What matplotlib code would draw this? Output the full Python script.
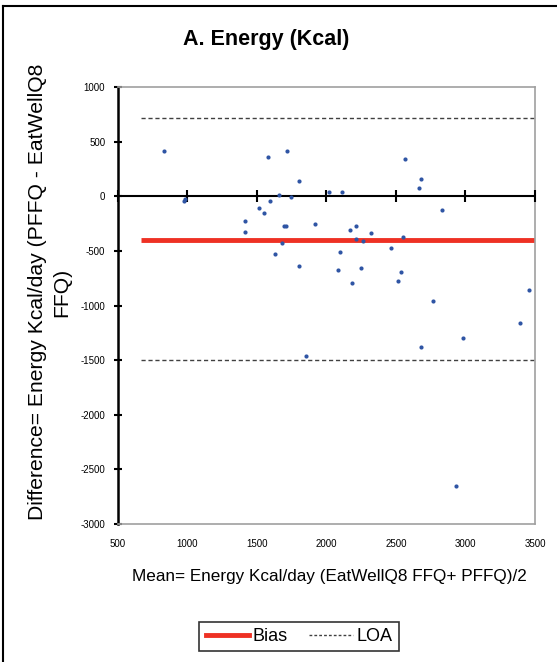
import numpy as np
import matplotlib
matplotlib.use('Agg')
matplotlib.rcParams['font.family'] = ['Liberation Sans', 'DejaVu Sans']
import matplotlib.pyplot as plt
from matplotlib.lines import Line2D

# Bland-Altman data (kcal/day)
mean_kcal = [835, 978, 986, 1580, 1717, 1806, 1657, 1744, 2017, 1593,
             1516, 1554, 1415, 1415, 1693, 1708, 1920, 1681, 1628, 1806,
             2110, 2565, 2678, 2666, 2829, 2211, 2172, 2323, 2211, 2261,
             2551, 2462, 2098, 2084, 2249, 2537, 2185, 2513, 2767, 3459,
             3394, 2980, 2678, 2930, 1856]
diff_kcal = [417, -48, -29, 356, 417, 136, 11, -7, 35, -48,
             -105, -149, -228, -329, -268, -268, -250, -429, -530, -635,
             35, 338, 154, 75, -127, -271, -310, -332, -390, -411,
             -372, -472, -512, -674, -653, -693, -796, -778, -959, -858,
             -1161, -1301, -1384, -2656, -1463]

bias = -405
loa_upper = 720
loa_lower = -1497
line_start = 670
x_end = 3500

xticks = [500, 1000, 1500, 2000, 2500, 3000, 3500]
yticks = [1000, 500, 0, -500, -1000, -1500, -2000, -2500, -3000]

W, H = 557, 662
fig = plt.figure(figsize=(W / 100, H / 100), dpi=100)
ax = fig.add_axes([117.7 / W, 1 - 524 / H, (535 - 117.7) / W, (524 - 87) / H])

ax.plot([line_start, x_end], [loa_upper, loa_upper], '--', color='#404040', lw=1.0, dashes=(3, 2))
ax.plot([line_start, x_end], [loa_lower, loa_lower], '--', color='#404040', lw=1.0, dashes=(3, 2))
ax.plot([line_start, x_end], [bias, bias], color='#ee3124', lw=3.5, solid_capstyle='butt')

# x axis drawn at zero with crossing ticks, as Excel does
ax.axhline(0, color='k', lw=1.5, zorder=3)
ax.plot(xticks, np.zeros(len(xticks)), ls='none', marker='|', ms=8, mew=1.5, color='k', zorder=3, clip_on=False)

ax.scatter(mean_kcal, diff_kcal, s=9, color='#2f55a4', zorder=4, linewidths=0)

ax.set_xlim(500, 3500)
ax.set_ylim(-3000, 1000)
ax.set_xticks(xticks)
ax.set_yticks(yticks)
ax.set_xticklabels([str(v) for v in xticks], fontsize=7)
ax.set_yticklabels([str(v) for v in yticks], fontsize=7)
ax.tick_params(axis='x', length=0, pad=11)
ax.tick_params(axis='y', direction='inout', length=6, width=1.5, pad=6)

for s in ['top', 'right', 'bottom']:
    ax.spines[s].set_color('#a0a0a0')
    ax.spines[s].set_linewidth(1.2)
ax.spines['left'].set_color('k')
ax.spines['left'].set_linewidth(1.8)

fig.text(266 / W, 1 - 40 / H, 'A. Energy (Kcal)', fontsize=15.5, fontweight='bold',
         ha='center', va='center')
fig.text(329 / W, 1 - 577 / H, 'Mean= Energy Kcal/day (EatWellQ8 FFQ+ PFFQ)/2',
         fontsize=12.3, ha='center', va='center')
fig.text(50 / W, 1 - 292 / H, 'Difference= Energy Kcal/day (PFFQ - EatWellQ8\nFFQ)',
         fontsize=15.2, rotation=90, ha='center', va='center', multialignment='center',
         linespacing=1.35)

# outer frame (cut at right and bottom)
fig.add_artist(Line2D([3 / W, 3 / W], [0, 1 - 6 / H], color='k', lw=1.5, transform=fig.transFigure))
fig.add_artist(Line2D([3 / W, 1], [1 - 6 / H, 1 - 6 / H], color='k', lw=1.5, transform=fig.transFigure))

handles = [Line2D([], [], color='#ee3124', lw=3.5),
           Line2D([], [], color='#404040', lw=1.0, ls='--', dashes=(2, 1.5))]
leg = fig.legend(handles, ['Bias', 'LOA'], loc='center', bbox_to_anchor=(299 / W, 1 - 636.5 / H),
                 ncol=2, fontsize=13, frameon=True, fancybox=False, edgecolor='k',
                 handlelength=2.4, handletextpad=0.2, columnspacing=1.2,
                 borderpad=0.35, borderaxespad=0)
leg.get_frame().set_linewidth(1.2)

fig.savefig('out.png', dpi=100)
